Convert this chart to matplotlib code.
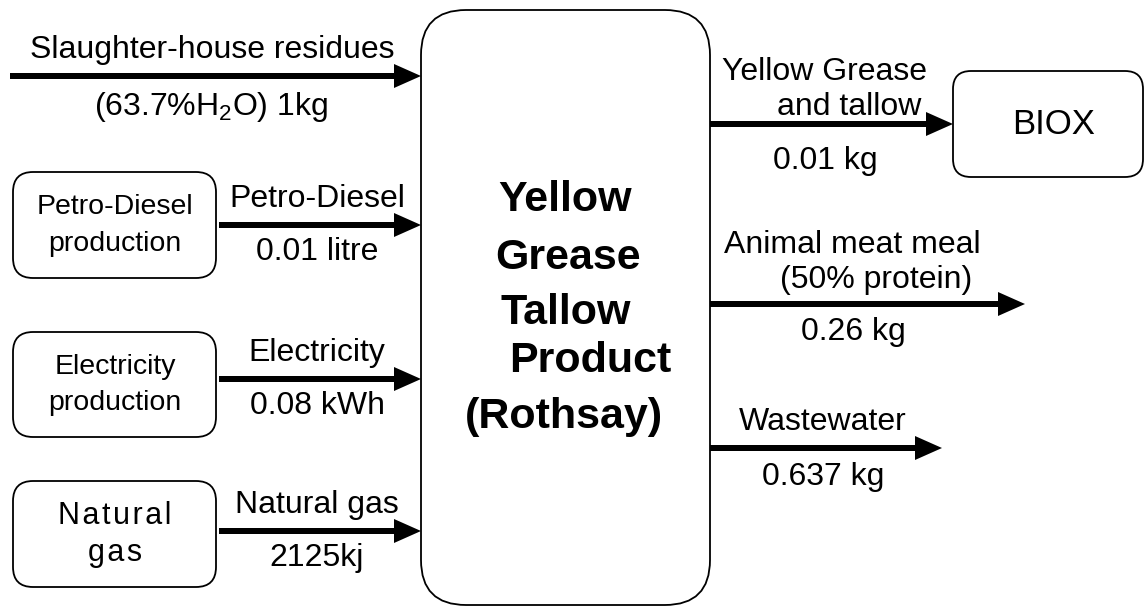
import matplotlib.pyplot as plt
from matplotlib.patches import FancyBboxPatch, FancyArrow

plt.rcParams["font.family"] = ["Liberation Sans", "DejaVu Sans"]
plt.rcParams["mathtext.fontset"] = "custom"
plt.rcParams["mathtext.rm"] = "Liberation Sans"
plt.rcParams["mathtext.it"] = "Liberation Sans"

HS = "\u200a"  # hair space, the natural gas box text is letter-spaced

# ---- Flow data
feed_label = "Slaughter-house residues"
feed_amount = "(63.7%H$_2$O) 1kg"

source_boxes = [("Petro-Diesel", "production"), ("Electricity", "production"),
                (HS.join("Natural"), HS.join("gas"))]
input_labels = ["Petro-Diesel", "Electricity", "Natural gas"]
input_amounts = ["0.01 litre", "0.08 kWh", "2125kj"]

process_lines = ["Yellow", "Grease", "Tallow", "Product", "(Rothsay)"]

output_labels = [("Yellow Grease", "and tallow"), ("Animal meat meal", "(50% protein)"), ("Wastewater",)]
output_amounts = ["0.01 kg", "0.26 kg", "0.637 kg"]
sink_box = "BIOX"

# ---- Layout (pixel coordinates)
W, H = 1144, 609
box_left, box_right, box_top, box_bot = 421, 710, 10, 605
input_y = [225, 379, 531]
source_y = [(172, 278), (332, 437), (481, 587)]
output_y = [124, 304, 448]
output_end = [953, 1025, 942]

fig = plt.figure(figsize=(W / 100, H / 100), dpi=100)
ax = fig.add_axes([0, 0, 1, 1])
ax.set_xlim(0, W)
ax.set_ylim(H, 0)
ax.axis("off")


def rbox(x0, y0, x1, y1, r):
    ax.add_patch(FancyBboxPatch((x0, y0), x1 - x0, y1 - y0,
                                boxstyle=f"round,pad=0,rounding_size={r}",
                                fc="white", ec="black", lw=1.3))


def arrow(x0, x1, y):
    ax.add_patch(FancyArrow(x0, y, x1 - x0, 0, width=6, head_width=24,
                            head_length=27, length_includes_head=True,
                            fc="black", ec="black", lw=0))


# central process box
rbox(box_left, box_top, box_right, box_bot, 45)
proc_pos = [(565, 200), (568, 258), (566, 313), (590, 361), (564, 417)]
for txt, (x, y) in zip(process_lines, proc_pos):
    ax.text(x, y, txt, ha="center", va="center", fontsize=31, fontweight="bold")

# feed arrow
arrow(10, box_left, 76)
ax.text(212, 50, feed_label, ha="center", va="center", fontsize=23)
ax.text(211, 107, feed_amount, ha="center", va="center", fontsize=23)

# input sources
for (l1, l2), (y0, y1), lab, amt, y in zip(source_boxes, source_y,
                                           input_labels, input_amounts, input_y):
    rbox(13, y0, 216, y1, 20)
    cy = (y0 + y1) / 2
    fs = 22 if HS in l1 else 20.5
    ax.text(115, cy - 18, l1, ha="center", va="center", fontsize=fs)
    ax.text(115, cy + 19, l2, ha="center", va="center", fontsize=fs)
    arrow(219, box_left, y)
    ax.text(317, y - 26, lab, ha="center", va="center", fontsize=23)
    ax.text(317, y + 27, amt, ha="center", va="center", fontsize=23)

# outputs
label_pos = [[(825, 72), (849, 107)], [(852, 245), (876, 280)], [(823, 422)]]
amount_pos = [(825, 161), (853, 332), (823, 477)]
for labs, amt, y, x1, lp, ap in zip(output_labels, output_amounts, output_y,
                                    output_end, label_pos, amount_pos):
    arrow(box_right, x1, y)
    for txt, (x, ty) in zip(labs, lp):
        ax.text(x, ty, txt, ha="center", va="center", fontsize=23)
    ax.text(ap[0], ap[1], amt, ha="center", va="center", fontsize=23)

# sink box
rbox(953, 71, 1143, 177, 18)
ax.text(1054, 125, sink_box, ha="center", va="center", fontsize=25)

fig.savefig("out.png", dpi=100)
